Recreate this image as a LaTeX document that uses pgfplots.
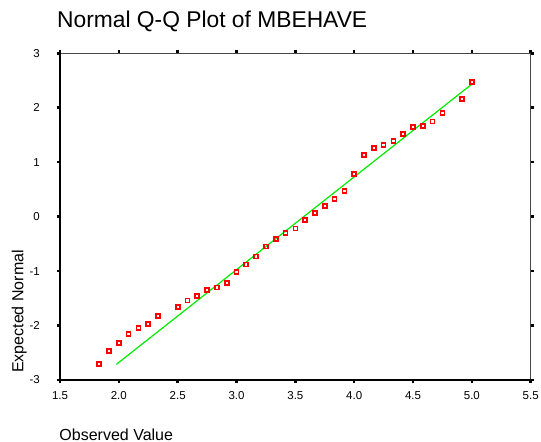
\documentclass[border=0pt]{standalone}
\usepackage{fontspec}
\setmainfont{Liberation Sans}
\usepackage{pgfplots}
\pgfplotsset{compat=1.18}
\definecolor{qqred}{RGB}{255,0,0}
\definecolor{qqgreen}{RGB}{0,235,0}
\definecolor{framegray}{RGB}{70,70,70}
\begin{document}
\begin{tikzpicture}
\useasboundingbox (0,0) rectangle (541bp,442bp);
\begin{axis}[
  at={(60bp,62bp)}, anchor=south west,
  scale only axis, width=470.7bp, height=326.7bp,
  xmin=1.5, xmax=5.5, ymin=-3, ymax=3,
  xtick={1.5,2,...,5.5}, ytick={-3,-2,...,3},
  xticklabels={1.5,2.0,2.5,3.0,3.5,4.0,4.5,5.0,5.5},
  /pgf/number format/assume math mode=true,
  axis line style={draw=none},
  tick align=outside, major tick length=3bp,
  major tick style={line width=2.5bp, black},
  ticklabel style={font=\fontsize{11.5bp}{13bp}\selectfont},
  xticklabel style={inner sep=0pt, anchor=north, yshift=-8bp},
  yticklabel style={inner sep=0pt, anchor=east, xshift=-17bp},
  title={Normal Q-Q Plot of MBEHAVE},
  title style={font=\fontsize{22.8bp}{26bp}\selectfont, at={(axis description cs:-0.0064,1.062)}, anchor=base west, inner sep=0pt},
  xlabel={Observed Value},
  xlabel style={font=\fontsize{16bp}{19bp}\selectfont, at={(axis description cs:-0.0015,-0.1837)}, anchor=base west, inner sep=0pt},
  ylabel={Expected Normal},
  ylabel style={font=\fontsize{16bp}{19bp}\selectfont, at={(axis description cs:-0.078,0.0214)}, anchor=base west, rotate=0, inner sep=0pt},
  clip=false,
]
\addplot[qqgreen, line width=1.2bp] coordinates {(1.979,-2.713) (5.0,2.434)};
\addplot[only marks, mark=square, mark size=2bp, mark options={qqred, line width=1.7bp}] coordinates {
(1.8333,-2.71) (1.9167,-2.47) (2.0,-2.32) (2.0833,-2.16) (2.1667,-2.05)
(2.25,-1.97) (2.3333,-1.83) (2.5,-1.66) (2.5833,-1.54) (2.6667,-1.46)
(2.75,-1.35) (2.8333,-1.30) (2.9167,-1.22) (3.0,-1.02) (3.0833,-0.88)
(3.1667,-0.73) (3.25,-0.55) (3.3333,-0.415) (3.4167,-0.30) (3.5,-0.22)
(3.5833,-0.067) (3.6667,0.062) (3.75,0.19) (3.8333,0.33) (3.9167,0.47)
(4.0,0.78) (4.0833,1.13) (4.1667,1.26) (4.25,1.32) (4.3333,1.39)
(4.4167,1.52) (4.5,1.64) (4.5833,1.67) (4.6667,1.75) (4.75,1.90)
(4.9167,2.16) (5.0,2.47)
};
\draw[line width=1.4bp, framegray] (rel axis cs:0,1) -- (rel axis cs:1,1) -- (rel axis cs:1,0);
\draw[line width=2.2bp, black] (rel axis cs:0,1) -- (rel axis cs:0,0) -- (rel axis cs:1,0);
\end{axis}
\end{tikzpicture}
\end{document}
